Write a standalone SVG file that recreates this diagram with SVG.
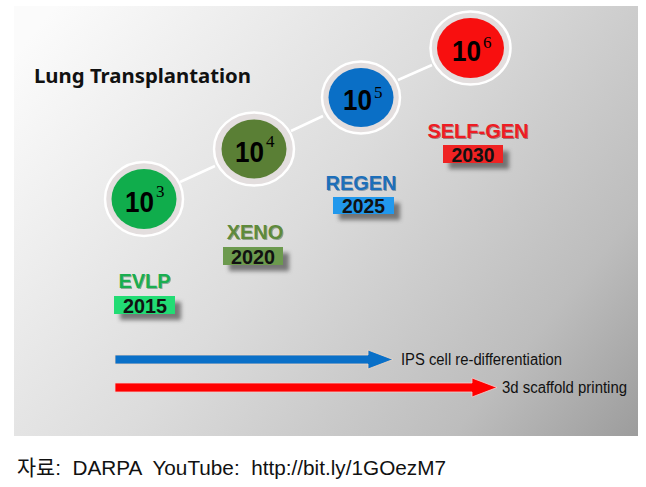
<svg xmlns="http://www.w3.org/2000/svg" width="646" height="487" viewBox="0 0 646 487">
<defs>
<linearGradient id="bg" gradientUnits="userSpaceOnUse" x1="60" y1="0" x2="620" y2="460">
<stop offset="0" stop-color="#fbfbfb"/>
<stop offset="0.45" stop-color="#dcdcdc"/>
<stop offset="0.8" stop-color="#bdbdbd"/>
<stop offset="1" stop-color="#9c9c9c"/>
</linearGradient>
<filter id="sh" x="-30%" y="-50%" width="160%" height="200%">
<feGaussianBlur stdDeviation="2"/>
</filter>
<style>
.ring{fill:#e3dede;stroke:#ffffff;stroke-width:2.5}
.num{font-family:"Liberation Sans",Arial,sans-serif;font-weight:bold;font-size:29px;fill:#000;text-anchor:end}
.sup{font-family:"Liberation Serif","Times New Roman",serif;font-size:17px;fill:#000}
.lbl{font-family:"Liberation Sans",Arial,sans-serif;font-weight:bold;font-size:20px;text-anchor:middle}
.yr{font-family:"Liberation Sans",Arial,sans-serif;font-weight:bold;font-size:21px;fill:#111;text-anchor:middle}
.shd{fill:#555;opacity:0.75;filter:url(#sh)}
.conn{stroke:#ffffff;stroke-width:2.5;fill:none}
.at{font-family:"Liberation Sans",Arial,sans-serif;font-size:16px;fill:#111}
</style>
</defs>
<rect x="14" y="6" width="624" height="430" fill="url(#bg)"/>
<text x="34" y="83" font-family="'Noto Sans','Liberation Sans',sans-serif" font-weight="bold" font-size="20" fill="#111" textLength="217" lengthAdjust="spacingAndGlyphs">Lung Transplantation</text>
<g id="connectors">
<line class="conn" x1="180" y1="182" x2="215" y2="166"/>
<line class="conn" x1="291" y1="131" x2="323" y2="116"/>
<line class="conn" x1="398" y1="80" x2="432" y2="65"/>
</g>
<g id="n1">
<ellipse class="ring" cx="144" cy="199" rx="39" ry="37"/>
<ellipse cx="144" cy="199" rx="32.5" ry="30" fill="#10ad4c"/>
<text class="num" x="154" y="212" textLength="29" lengthAdjust="spacingAndGlyphs">10</text>
<text class="sup" x="156" y="197">3</text>
</g>
<g id="n2">
<ellipse class="ring" cx="254" cy="149" rx="40" ry="36.5"/>
<ellipse cx="254" cy="149" rx="32.5" ry="29.5" fill="#5a7f35"/>
<text class="num" x="264" y="162" textLength="29" lengthAdjust="spacingAndGlyphs">10</text>
<text class="sup" x="266" y="147">4</text>
</g>
<g id="n3">
<ellipse class="ring" cx="361" cy="97.5" rx="39" ry="36"/>
<ellipse cx="361" cy="97.5" rx="32.5" ry="29.5" fill="#0a6fc6"/>
<text class="num" x="372" y="110" textLength="29" lengthAdjust="spacingAndGlyphs">10</text>
<text class="sup" x="374" y="98">5</text>
</g>
<g id="n4">
<ellipse class="ring" cx="470.5" cy="48" rx="40" ry="36.5"/>
<ellipse cx="470.5" cy="48" rx="33.5" ry="30" fill="#f80f0f"/>
<text class="num" x="481" y="61" textLength="29" lengthAdjust="spacingAndGlyphs">10</text>
<text class="sup" x="483" y="48">6</text>
</g>
<g id="evlp">
<text class="lbl" x="145.5" y="289" fill="#0a5a28" opacity="0.4">EVLP</text>
<text class="lbl" x="144.5" y="288" fill="#1aae50">EVLP</text>
<rect class="shd" x="120" y="302" width="61" height="18"/>
<rect x="114" y="296" width="61" height="18" fill="#22dc74"/>
<text class="yr" x="145" y="313" textLength="44" lengthAdjust="spacingAndGlyphs">2015</text>
</g>
<g id="xeno">
<text class="lbl" x="256" y="240" fill="#2c4a18" opacity="0.4">XENO</text>
<text class="lbl" x="255" y="239" fill="#5e8a3c">XENO</text>
<rect class="shd" x="229" y="253" width="60" height="18"/>
<rect x="223" y="247" width="60" height="18" fill="#6c9a4e"/>
<text class="yr" x="253" y="264" textLength="44" lengthAdjust="spacingAndGlyphs">2020</text>
</g>
<g id="regen">
<text class="lbl" x="362" y="191" fill="#0a3a6a" opacity="0.4">REGEN</text>
<text class="lbl" x="361" y="190" fill="#1d6fba">REGEN</text>
<rect class="shd" x="339" y="203" width="61" height="17"/>
<rect x="333" y="197" width="61" height="17" fill="#2198ec"/>
<text class="yr" x="363.5" y="213" textLength="43" lengthAdjust="spacingAndGlyphs">2025</text>
</g>
<g id="selfgen">
<text class="lbl" x="479" y="139" font-size="21" fill="#6a0a0a" opacity="0.45">SELF-GEN</text>
<text class="lbl" x="478" y="138" font-size="21" fill="#ee1c24">SELF-GEN</text>
<rect class="shd" x="449" y="151" width="60" height="18"/>
<rect x="443" y="145" width="60" height="18" fill="#ef2323"/>
<text class="yr" x="473" y="162" textLength="43" lengthAdjust="spacingAndGlyphs">2030</text>
</g>
<g id="arrows">
<path d="M115,355 H368 V350 L393,359.5 L368,369 V364 H115 Z" fill="#0a70c8" stroke="#f2d8c4" stroke-width="0.8"/>
<text class="at" x="401" y="365" textLength="161" lengthAdjust="spacingAndGlyphs">IPS cell re-differentiation</text>
<path d="M115,383 H472 V378 L497,387.5 L472,397 V392 H115 Z" fill="#ff0000" stroke="#f2d0d0" stroke-width="0.8"/>
<text class="at" x="502" y="393" textLength="125" lengthAdjust="spacingAndGlyphs">3d scaffold printing</text>
</g>
<text x="17" y="475" xml:space="preserve" style="white-space:pre" font-family="'Liberation Sans','Noto Sans CJK KR',sans-serif" font-size="21" fill="#111" textLength="429" lengthAdjust="spacingAndGlyphs">자료:  DARPA  YouTube:  http://bit.ly/1GOezM7</text>
</svg>
